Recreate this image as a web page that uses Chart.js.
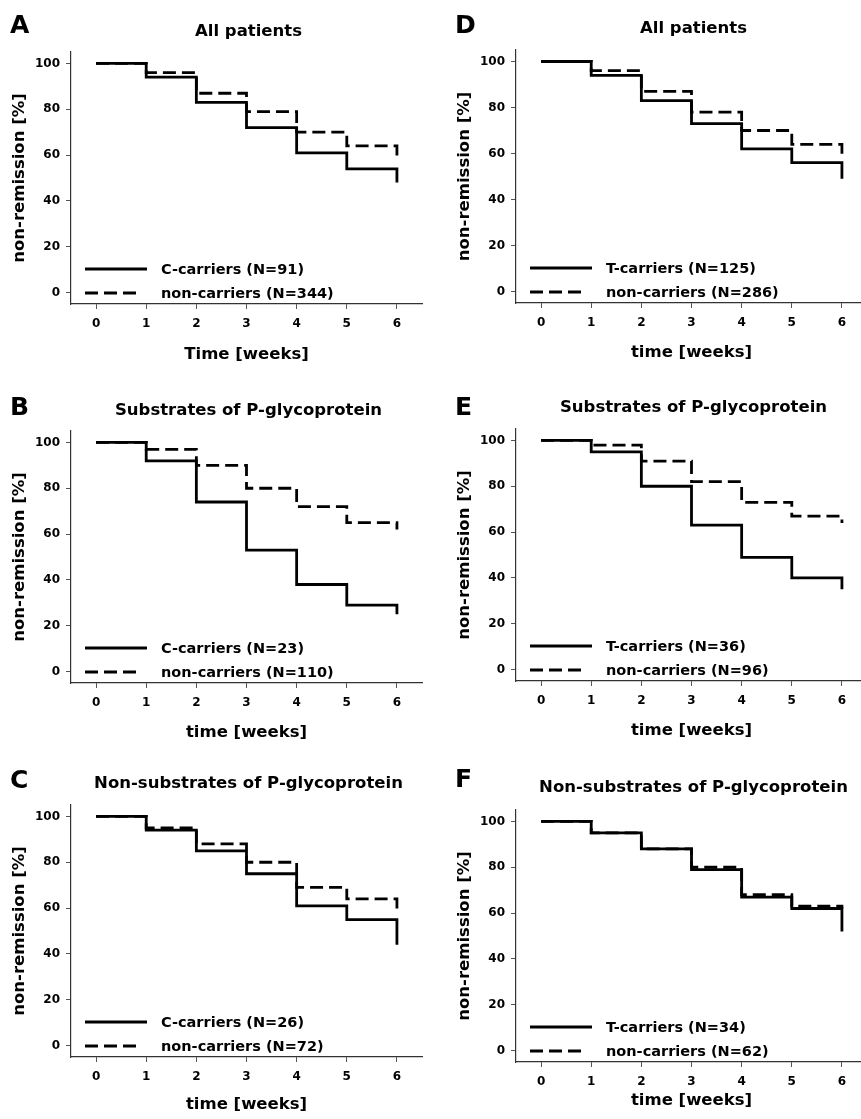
<!DOCTYPE html>
<html>
<head>
<meta charset="utf-8">
<script src="https://cdn.jsdelivr.net/npm/chart.js@4/dist/chart.umd.min.js"></script>
<style>
html,body{margin:0;padding:0;background:#fff;overflow:hidden;width:861px;height:1119px;position:relative;}
canvas{position:absolute;}
</style>
</head>
<body>
<canvas id="cA"></canvas>
<canvas id="cB"></canvas>
<canvas id="cC"></canvas>
<canvas id="cD"></canvas>
<canvas id="cE"></canvas>
<canvas id="cF"></canvas>
<script>
// ---------- data ----------
const weeks = [0, 1, 2, 3, 4, 5, 6];
const xTickValues = [0, 1, 2, 3, 4, 5, 6];
const yTickValues = [0, 20, 40, 60, 80, 100];

const panelLetters = ['A', 'B', 'C', 'D', 'E', 'F'];
const panelTitles = ['All patients', 'Substrates of P-glycoprotein', 'Non-substrates of P-glycoprotein',
                     'All patients', 'Substrates of P-glycoprotein', 'Non-substrates of P-glycoprotein'];
const xAxisTitles = ['Time [weeks]', 'time [weeks]', 'time [weeks]', 'time [weeks]', 'time [weeks]', 'time [weeks]'];
const yAxisTitle = 'non-remission [%]';
const carrierLabels = ['C-carriers (N=91)', 'C-carriers (N=23)', 'C-carriers (N=26)',
                       'T-carriers (N=125)', 'T-carriers (N=36)', 'T-carriers (N=34)'];
const nonCarrierLabels = ['non-carriers (N=344)', 'non-carriers (N=110)', 'non-carriers (N=72)',
                          'non-carriers (N=286)', 'non-carriers (N=96)', 'non-carriers (N=62)'];

// non-remission [%] at start of each week (last value = end of the final drop at week 6)
const carriersA    = [100, 94, 83, 72, 61, 54, 48];
const nonCarriersA = [100, 96, 87, 79, 70, 64, 58];
const carriersB    = [100, 92, 74, 53, 38, 29, 25];
const nonCarriersB = [100, 97, 90, 80, 72, 65, 62];
const carriersC    = [100, 94, 85, 75, 61, 55, 44];
const nonCarriersC = [100, 95, 88, 80, 69, 64, 58];
const carriersD    = [100, 94, 83, 73, 62, 56, 49];
const nonCarriersD = [100, 96, 87, 78, 70, 64, 58];
const carriersE    = [100, 95, 80, 63, 49, 40, 35];
const nonCarriersE = [100, 98, 91, 82, 73, 67, 64];
const carriersF    = [100, 95, 88, 79, 67, 62, 52];
const nonCarriersF = [100, 95, 88, 80, 68, 63, 62];

const carrierSeries = [carriersA, carriersB, carriersC, carriersD, carriersE, carriersF];
const nonCarrierSeries = [nonCarriersA, nonCarriersB, nonCarriersC, nonCarriersD, nonCarriersE, nonCarriersF];

// ---------- layout (positions / sizes only) ----------
const layouts = [
  {id:'cA', left:0,   top:0,   w:430, h:370, area:{l:71, t:52, r:422, b:304}, letterX:10, letterY:33, titleY:36, yTitleX:20, xTitleY:355},
  {id:'cB', left:0,   top:370, w:430, h:380, area:{l:71, t:61, r:422, b:313}, letterX:10, letterY:45, titleY:45, yTitleX:20, xTitleY:363},
  {id:'cC', left:0,   top:750, w:430, h:369, area:{l:71, t:55, r:422, b:307}, letterX:10, letterY:38, titleY:38, yTitleX:20, xTitleY:354.5},
  {id:'cD', left:430, top:0,   w:445, h:370, area:{l:86, t:50, r:437, b:303}, letterX:25, letterY:33, titleY:33, yTitleX:35, xTitleY:352.5},
  {id:'cE', left:430, top:370, w:445, h:380, area:{l:86, t:59, r:437, b:311}, letterX:25, letterY:45, titleY:42, yTitleX:35, xTitleY:361},
  {id:'cF', left:430, top:750, w:445, h:369, area:{l:86, t:60, r:437, b:312}, letterX:25, letterY:37, titleY:42, yTitleX:35, xTitleY:350.5}
];

const FONT = "'DejaVu Sans', 'Liberation Sans', sans-serif";
Chart.defaults.color = '#000';
Chart.defaults.font.family = FONT;

const decoPlugin = {
  id: 'panelDeco',
  afterDatasetsDraw(chart, args, opts) {
    const ctx = chart.ctx;
    const ca = chart.chartArea;
    ctx.save();
    ctx.fillStyle = '#000';
    // panel letter
    ctx.font = 'bold 25px ' + FONT;
    ctx.textAlign = 'left';
    ctx.textBaseline = 'alphabetic';
    ctx.fillText(opts.letter, opts.letterX, opts.letterY);
    // panel title
    ctx.font = 'bold 16.5px ' + FONT;
    ctx.textAlign = 'center';
    ctx.fillText(opts.title, (ca.left + ca.right) / 2 + 2, opts.titleY);
    // legend inside plot (lower left)
    ctx.font = 'bold 14.5px ' + FONT;
    ctx.textAlign = 'left';
    ctx.textBaseline = 'middle';
    chart.data.datasets.forEach((ds, i) => {
      const y = ca.bottom - 35 + i * 24;
      const x0 = ca.left + 14;
      const len = ds.borderDash && ds.borderDash.length ? 53 : 62;
      ctx.beginPath();
      ctx.setLineDash(ds.borderDash || []);
      ctx.lineWidth = ds.borderWidth;
      ctx.strokeStyle = ds.borderColor;
      ctx.moveTo(x0, y);
      ctx.lineTo(x0 + len, y);
      ctx.stroke();
      ctx.setLineDash([]);
      ctx.fillText(ds.label, ca.left + 90, y + 1);
    });
    ctx.restore();
  }
};

layouts.forEach((L, p) => {
  const cv = document.getElementById(L.id);
  cv.width = L.w; cv.height = L.h;
  cv.style.left = L.left + 'px'; cv.style.top = L.top + 'px';
  cv.style.width = L.w + 'px'; cv.style.height = L.h + 'px';
  const xTitleLH = 16.5 * 1.2;
  const xTitlePadBottom = L.h - L.xTitleY - xTitleLH / 2;
  const yTitlePadTop = L.yTitleX - xTitleLH / 2;

  new Chart(cv, {
    type: 'line',
    data: {
      datasets: [
        {
          label: carrierLabels[p],
          data: weeks.map((w, i) => ({x: w, y: carrierSeries[p][i]})),
          borderColor: '#000', borderWidth: 2.8, pointRadius: 0, stepped: 'before', fill: false
        },
        {
          label: nonCarrierLabels[p],
          data: weeks.map((w, i) => ({x: w, y: nonCarrierSeries[p][i]})),
          borderColor: '#000', borderWidth: 2.8, borderDash: [13, 6], pointRadius: 0, stepped: 'before', fill: false
        }
      ]
    },
    options: {
      responsive: false,
      animation: false,
      devicePixelRatio: 1,
      events: [],
      layout: {padding: {left: 0, top: L.area.t, right: L.w - L.area.r, bottom: 0}},
      plugins: {
        legend: {display: false},
        title: {display: false},
        tooltip: {enabled: false},
        panelDeco: {letter: panelLetters[p], title: panelTitles[p], letterX: L.letterX, letterY: L.letterY, titleY: L.titleY}
      },
      scales: {
        x: {
          type: 'linear', min: -0.5, max: 6.5,
          afterBuildTicks: s => { s.ticks = xTickValues.map(v => ({value: v})); },
          afterFit: s => { s.height = L.h - L.area.b; },
          ticks: {font: {size: 12, weight: 'bold', family: FONT}, color: '#000', padding: 8, autoSkip: false, maxRotation: 0},
          grid: {display: true, drawOnChartArea: false, drawTicks: true, tickLength: 5, color: '#555', lineWidth: 1},
          border: {display: true, color: '#333', width: 1.2},
          title: {display: true, text: xAxisTitles[p], font: {size: 16.5, weight: 'bold', family: FONT, lineHeight: 1.2}, color: '#000',
                  padding: {top: 0, bottom: xTitlePadBottom}}
        },
        y: {
          type: 'linear', min: -5, max: 105,
          afterBuildTicks: s => { s.ticks = yTickValues.map(v => ({value: v})); },
          afterFit: s => { s.width = L.area.l; },
          ticks: {font: {size: 12, weight: 'bold', family: FONT}, color: '#000', padding: 6, autoSkip: false},
          grid: {display: true, drawOnChartArea: false, drawTicks: true, tickLength: 5, color: '#555', lineWidth: 1},
          border: {display: true, color: '#333', width: 1.2},
          title: {display: true, text: yAxisTitle, font: {size: 16.5, weight: 'bold', family: FONT, lineHeight: 1.2}, color: '#000',
                  padding: {top: yTitlePadTop, bottom: 0}}
        }
      }
    },
    plugins: [decoPlugin]
  });
});
</script>
</body>
</html>
